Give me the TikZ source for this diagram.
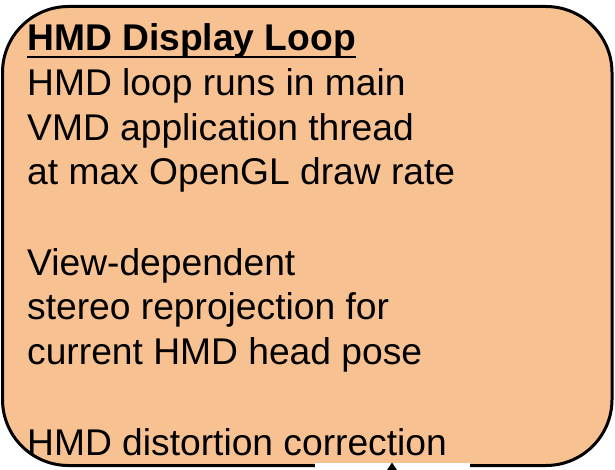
\documentclass[tikz,border=0pt]{standalone}
\usepackage{fontspec}
\setmainfont{Liberation Sans}
\usetikzlibrary{arrows.meta}
\definecolor{loopfill}{RGB}{248,193,146}
\begin{document}
\begin{tikzpicture}[x=1pt,y=-1pt,
  loopbox/.style={draw=black,line width=3pt,fill=loopfill,rounded corners=66pt},
  bodytext/.style={anchor=base west,inner sep=0pt,font=\fontsize{37.2}{44.6}\selectfont},
  cover/.style={fill=white,draw=none,inner sep=0pt}]
\useasboundingbox (0,0) rectangle (615,470);
% display loop box
\path[loopbox] (2.5,6.5) rectangle (612,465.5);
% incoming connector, cut off at the page edge
\node[cover,minimum width=155pt,minimum height=8pt,anchor=north west] (feed) at (315,463) {};
\coordinate (feedtop) at (392,462.5);
\coordinate (feedfoot) at (392,490);
\draw[-{Triangle[length=11pt,width=14pt]},line width=2pt] (feedfoot) -- (feedtop);
% text lines
\node[bodytext] (title) at (27,51) {\textbf{HMD Display Loop}};
\draw[line width=2.6pt] ([yshift=-6pt]title.base west) -- ([yshift=-6pt]title.base east);
\node[bodytext] (l1) at (27,96) {HMD loop runs in main};
\node[bodytext] (l2) at (27,140.5) {VMD application thread};
\node[bodytext] (l3) at (27,185) {at max OpenGL draw rate};
\node[bodytext] (l4) at (27,275) {View-dependent};
\node[bodytext] (l5) at (27,319.5) {stereo reprojection for};
\node[bodytext] (l6) at (27,364) {current HMD head pose};
\node[bodytext] (l7) at (27,455) {HMD distortion correction};
\end{tikzpicture}
\end{document}
